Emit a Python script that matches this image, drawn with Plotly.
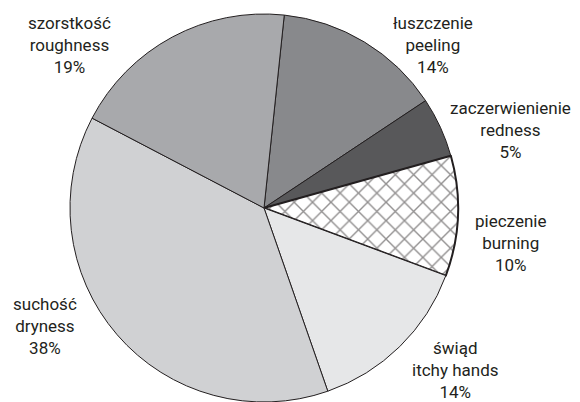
import plotly.graph_objects as go

# ---- data ----
labels_pl = ["łuszczenie", "zaczerwienienie", "pieczenie", "świąd", "suchość", "szorstkość"]
labels_en = ["peeling", "redness", "burning", "itchy hands", "dryness", "roughness"]
values = [14, 5, 10, 14, 38, 19]

# ---- style ----
colors = ["#88898c", "#58585a", "#ffffff", "#e6e7e8", "#d0d1d3", "#a8a9ac"]
patterns = ["", "", "x", "", "", ""]
line_widths = [1, 1, 2, 1, 1, 1]
# label anchor positions in pixels (x from left, y from top)
label_px = [(433, 45), (510, 130), (510, 243), (455, 370), (45, 326), (69, 45)]

W, H = 580, 402
cx, cy, r = 264, 208, 194

fig = go.Figure(go.Pie(
    labels=[f"{a} / {b}" for a, b in zip(labels_pl, labels_en)],
    values=values,
    sort=False,
    direction="clockwise",
    rotation=6,
    textinfo="none",
    hoverinfo="label+percent",
    marker=dict(
        colors=colors,
        line=dict(color="#231f20", width=line_widths),
        pattern=dict(shape=patterns, fgcolor="#231f20", bgcolor="#ffffff",
                     size=13, solidity=0.2, fillmode="overlay"),
    ),
    domain=dict(x=[max(0, (cx - r) / W), min(1, (cx + r) / W)],
                y=[max(0, (H - cy - r) / H), min(1, (H - cy + r) / H)]),
    showlegend=False,
))

total = sum(values)
for (px, py), pl, en, v in zip(label_px, labels_pl, labels_en, values):
    fig.add_annotation(
        x=px / W, y=1 - py / H, xref="paper", yref="paper",
        text=f"{pl}<br>{en}<br>{round(100 * v / total)}%",
        showarrow=False, xanchor="center", yanchor="middle",
        font=dict(family="Roboto, Liberation Sans, sans-serif", size=17, color="#231f20"),
    )

fig.update_layout(
    width=W, height=H,
    margin=dict(l=0, r=0, t=0, b=0),
    paper_bgcolor="white", plot_bgcolor="white",
)

fig.write_html(
    "out.html",
    config={"displayModeBar": False},
    post_script="document.body.style.margin='0';document.body.style.overflow='hidden';",
)
